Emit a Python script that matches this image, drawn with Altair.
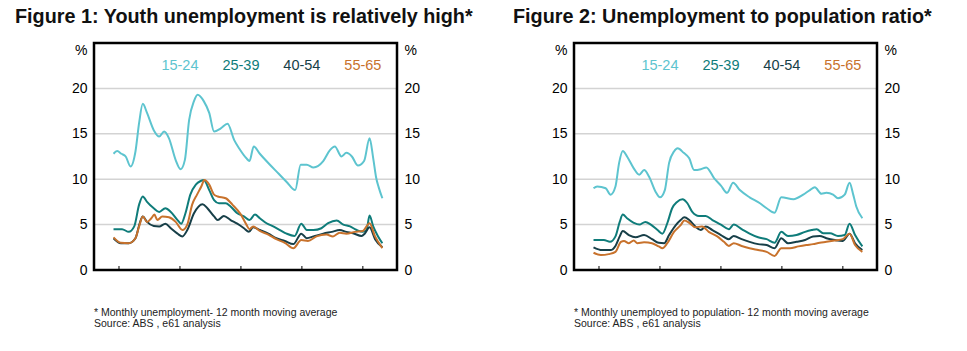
import altair as alt
import pandas as pd

GROUPS = ["15-24", "25-39", "40-54", "55-65"]
COLORS = ["#5DC4CF", "#0F7C7A", "#173F48", "#C8722C"]

# ---------------- Figure 1: unemployment rate (%) ----------------
f1_1524_year = [1979.1, 1979.7, 1980.4, 1981.1, 1981.9, 1982.7, 1983.3, 1983.9, 1984.6, 1985.7,
                1986.6, 1987.4, 1988.2, 1989.3, 1990.1, 1990.8, 1991.5, 1992.3, 1992.9, 1993.9,
                1994.8, 1995.6, 1996.7, 1997.8, 1998.9, 1999.8, 2000.9, 2001.4, 2002.1, 2003.1,
                2004.6, 2006.2, 2007.5, 2008.9, 2009.8, 2010.8, 2011.9, 2013.5, 2014.6, 2015.4,
                2016.5, 2017.3, 2018.2, 2019.2, 2020.2, 2021.1, 2021.7, 2022.2, 2022.6, 2023.2]
f1_1524_val = [12.8, 13.1, 12.8, 12.5, 11.4, 13.05, 16.2, 18.3, 17.3, 15.4,
               14.7, 15.25, 14.5, 12.1, 11.1, 12.1, 16.5, 18.6, 19.3, 18.6,
               17.3, 15.25, 15.6, 16.1, 14.3, 13.3, 12.3, 12.0, 13.6, 12.8,
               11.7, 10.6, 9.7, 8.8, 11.6, 11.6, 11.3, 12.0, 13.2, 13.6,
               12.5, 12.9, 12.5, 11.5, 12.0, 14.5, 12.3, 10.1, 9.1, 7.9]

f1_2539_year = [1979.1, 1980.5, 1981.6, 1982.5, 1983.3, 1983.9, 1984.6, 1985.7, 1986.6, 1987.6,
                1988.5, 1989.6, 1990.2, 1990.9, 1991.7, 1992.6, 1993.4, 1993.9, 1994.8, 1995.6,
                1996.4, 1997.5, 1998.3, 1999.4, 2000.5, 2001.4, 2002.3, 2003.1, 2004.2, 2005.3,
                2006.4, 2007.5, 2008.8, 2009.9, 2010.8, 2011.9, 2013.2, 2014.3, 2015.7, 2016.8,
                2017.9, 2019.0, 2020.0, 2020.6, 2021.1, 2021.7, 2022.5, 2023.2]
f1_2539_val = [4.5, 4.5, 4.2, 4.8, 7.2, 8.1, 7.5, 6.8, 6.4, 6.8,
               6.4, 5.5, 5.1, 6.25, 8.3, 9.4, 9.8, 9.9, 8.8, 7.7,
               7.35, 7.35, 7.0, 6.25, 5.9, 5.5, 6.1, 5.7, 5.15, 4.8,
               4.4, 4.0, 3.75, 5.1, 4.4, 4.4, 4.6, 5.15, 5.45, 5.0,
               4.8, 4.4, 4.2, 4.4, 6.0, 4.8, 3.7, 2.95]

f1_4054_year = [1979.1, 1980.3, 1981.6, 1982.7, 1983.4, 1983.9, 1984.6, 1985.7, 1986.6, 1987.6,
                1988.5, 1989.6, 1990.4, 1991.2, 1992.3, 1993.7, 1994.5, 1995.6, 1996.2, 1997.2,
                1998.3, 1999.4, 2000.5, 2001.3, 2002.0, 2003.1, 2004.5, 2005.8, 2007.2, 2008.6,
                2009.9, 2010.8, 2011.9, 2013.5, 2014.9, 2016.2, 2017.3, 2018.4, 2019.8, 2020.3,
                2021.1, 2022.0, 2023.2]
f1_4054_val = [3.5, 2.95, 2.95, 3.5, 5.15, 5.9, 5.3, 4.85, 4.8, 5.1,
               4.6, 4.0, 3.7, 4.4, 6.25, 7.25, 6.8, 5.9, 5.5, 5.95,
               5.5, 5.1, 4.6, 4.2, 4.7, 4.4, 4.0, 3.5, 3.2, 2.85,
               4.0, 3.5, 3.7, 4.0, 4.2, 4.4, 4.2, 4.05, 3.75, 4.0,
               4.7, 3.4, 2.5]

f1_5565_year = [1979.1, 1980.3, 1981.6, 1982.7, 1983.3, 1983.9, 1984.6, 1985.3, 1985.8, 1986.3,
                1987.1, 1988.2, 1989.3, 1990.4, 1991.2, 1992.0, 1992.8, 1993.5, 1994.0, 1994.8,
                1995.6, 1996.2, 1997.5, 1998.6, 2000.0, 2000.9, 2001.4, 2002.0, 2003.1, 2004.5,
                2005.8, 2007.2, 2008.6, 2009.9, 2011.0, 2012.4, 2014.0, 2015.1, 2016.2, 2017.3,
                2018.7, 2020.0, 2021.1, 2022.0, 2023.2]
f1_5565_val = [3.6, 3.0, 2.95, 3.5, 4.8, 5.9, 5.3, 5.7, 6.1, 5.5,
               5.9, 5.8, 5.3, 4.4, 5.0, 7.2, 8.3, 9.2, 9.9, 9.4,
               8.3, 8.1, 7.9, 7.2, 6.1, 5.0, 4.5, 4.8, 4.3, 3.9,
               3.4, 3.0, 2.4, 3.3, 3.2, 3.7, 3.9, 3.7, 4.1, 4.0,
               4.2, 4.3, 5.15, 3.7, 2.4]

# ---------------- Figure 2: unemployment to population ratio (%) ----------------
f2_1524_year = [1979.1, 1979.7, 1981.1, 1981.9, 1982.7, 1983.3, 1983.9, 1984.6, 1985.7, 1986.6,
                1987.4, 1988.2, 1989.3, 1990.0, 1990.8, 1991.5, 1992.3, 1992.9, 1993.9, 1994.8,
                1995.6, 1996.7, 1997.6, 1998.9, 2000.0, 2001.0, 2002.0, 2003.1, 2004.7, 2006.4,
                2007.5, 2008.8, 2009.9, 2011.9, 2013.5, 2014.6, 2015.4, 2016.5, 2017.3, 2018.4,
                2019.2, 2020.3, 2021.1, 2021.7, 2022.2, 2023.2]
f2_1524_val = [9.0, 9.2, 9.0, 8.3, 9.2, 11.8, 13.1, 12.5, 11.2, 10.5,
               11.0, 10.3, 8.6, 8.0, 8.8, 11.8, 13.05, 13.4, 12.9, 12.3,
               11.0, 11.1, 11.3, 10.1, 9.3, 8.5, 9.6, 8.8, 8.0, 7.35,
               6.8, 6.3, 8.0, 7.8, 8.3, 8.8, 9.1, 8.4, 8.5, 8.3,
               7.9, 8.3, 9.6, 8.3, 7.0, 5.7]

f2_2539_year = [1979.1, 1980.8, 1981.8, 1982.7, 1983.4, 1983.9, 1984.6, 1985.7, 1986.6, 1987.6,
                1988.5, 1989.6, 1990.4, 1991.2, 1992.0, 1992.8, 1993.7, 1994.5, 1995.3, 1996.4,
                1997.5, 1998.6, 2000.0, 2001.3, 2002.1, 2003.4, 2004.7, 2006.1, 2007.5, 2008.8,
                2009.9, 2011.0, 2012.4, 2013.8, 2014.9, 2015.7, 2016.8, 2017.9, 2019.2, 2020.3,
                2021.1, 2022.0, 2023.2]
f2_2539_val = [3.3, 3.3, 3.1, 3.7, 5.3, 6.1, 5.7, 5.2, 5.0, 5.3,
               5.0, 4.4, 4.0, 5.15, 6.8, 7.5, 7.8, 7.35, 6.4, 5.95,
               5.95, 5.5, 5.0, 4.5, 5.0, 4.5, 4.0, 3.6, 3.4, 3.0,
               4.2, 3.75, 3.85, 4.2, 4.4, 4.5, 4.05, 4.05, 3.75, 3.85,
               5.1, 3.85, 2.6]

f2_4054_year = [1979.1, 1980.5, 1981.9, 1982.7, 1983.4, 1983.9, 1984.9, 1986.0, 1987.4, 1988.7,
                1989.8, 1990.7, 1991.5, 1992.6, 1993.4, 1994.0, 1994.8, 1995.8, 1996.7, 1997.5,
                1998.6, 2000.0, 2001.3, 2002.1, 2003.4, 2004.7, 2006.1, 2007.5, 2008.8, 2009.9,
                2011.0, 2012.4, 2013.8, 2015.1, 2016.2, 2017.3, 2018.7, 2020.0, 2021.1, 2022.0,
                2023.2]
f2_4054_val = [2.5, 2.2, 2.2, 2.65, 3.7, 4.3, 3.85, 3.6, 3.85, 3.4,
               3.0, 2.95, 3.85, 4.95, 5.5, 5.8, 5.5, 4.8, 4.4, 4.8,
               4.4, 3.85, 3.4, 3.75, 3.4, 3.1, 2.85, 2.75, 2.4, 3.5,
               2.95, 3.1, 3.3, 3.7, 3.75, 3.5, 3.3, 3.2, 4.0, 2.95,
               2.2]

f2_5565_year = [1979.1, 1980.3, 1981.6, 1982.7, 1983.6, 1984.1, 1984.9, 1985.7, 1986.3, 1987.4,
                1988.7, 1989.8, 1990.4, 1991.2, 1992.3, 1993.4, 1994.0, 1994.8, 1995.8, 1996.9,
                1998.0, 1999.4, 2000.5, 2001.3, 2002.1, 2003.4, 2004.7, 2006.1, 2007.5, 2008.8,
                2009.9, 2011.3, 2012.7, 2014.0, 2015.1, 2016.2, 2017.3, 2018.7, 2020.0, 2021.1,
                2022.0, 2023.2]
f2_5565_val = [1.9, 1.65, 1.75, 2.0, 3.1, 3.2, 2.95, 3.25, 2.95, 3.05,
               2.95, 2.6, 2.4, 2.95, 4.2, 4.95, 5.45, 5.2, 4.7, 4.8,
               4.2, 3.7, 3.1, 2.65, 2.95, 2.65, 2.4, 2.2, 2.0, 1.55,
               2.4, 2.4, 2.6, 2.75, 2.85, 3.0, 3.1, 3.25, 3.4, 4.0,
               2.75, 2.0]

# ---------------- text ----------------
TITLE_1 = "Figure 1: Youth unemployment is relatively high*"
TITLE_2 = "Figure 2: Unemployment to population ratio*"
NOTE_1 = ["* Monthly unemployment- 12 month moving average", "Source: ABS , e61 analysis"]
NOTE_2 = ["* Monthly unemployed to population- 12 month moving average", "Source: ABS , e61 analysis"]

LEGEND_YEAR = [1990, 2000, 2010, 2020]
LEGEND_VALUE = 22.5
Y_TICKS = [0, 5, 10, 15, 20]
PCT_POS = 24.2
X_TICKS = [1980, 1990, 2000, 2010, 2020]
X_DOMAIN = [1975.9, 2025.6]
Y_DOMAIN = [0, 25]

FONT = "Liberation Sans"
W, H = 303, 227


def series_frame(parts):
    rows = []
    for g, ys, vs in parts:
        for y, v in zip(ys, vs):
            rows.append({"group": g, "year": y, "value": v})
    return pd.DataFrame(rows)


def panel(parts, title, notes, anchor=False):
    df = series_frame(parts)
    xs = alt.Scale(domain=X_DOMAIN, nice=False, zero=False)
    ys = alt.Scale(domain=Y_DOMAIN, nice=False)
    cs = alt.Scale(domain=GROUPS, range=COLORS)

    def yaxis(orient):
        return alt.Axis(orient=orient, values=Y_TICKS + [PCT_POS],
                        labelExpr="datum.value > 24 ? '%' : datum.label",
                        domain=False, ticks=False, grid=False, title=None,
                        labelPadding=7, labelFontSize=14, labelColor="#000",
                        labelFont=FONT)

    grid = alt.Chart(pd.DataFrame({"v": Y_TICKS[1:]})).mark_rule(
        color="#d3d3d3", strokeWidth=1.5
    ).encode(y=alt.Y("v:Q", scale=ys, axis=yaxis("left")))

    lines = alt.Chart(df).mark_line(strokeWidth=2, interpolate="monotone").encode(
        x=alt.X("year:Q", scale=xs,
                axis=alt.Axis(values=X_TICKS, format="d", domain=False, ticks=False,
                              grid=False, title=None, labelPadding=5, labelFontSize=14,
                              labelColor="#000", labelFont=FONT)),
        y=alt.Y("value:Q", scale=ys, axis=yaxis("right")),
        color=alt.Color("group:N", scale=cs, legend=None),
        order=alt.Order("year:Q"),
    )

    xt = alt.Chart(pd.DataFrame({"t": X_TICKS})).mark_rule(color="#000", strokeWidth=1).encode(
        x=alt.X("t:Q", scale=xs, axis=None),
        y=alt.value(H), y2=alt.value(H - 4),
    )

    frame = alt.Chart(pd.DataFrame({"a": [0]})).mark_rect(
        fill=None, stroke="#000", strokeWidth=2.5
    ).encode(x=alt.value(0), x2=alt.value(W), y=alt.value(0), y2=alt.value(H))

    leg = alt.Chart(pd.DataFrame({"group": GROUPS, "year": LEGEND_YEAR,
                                  "value": [LEGEND_VALUE] * 4})).mark_text(
        fontSize=14.5, font=FONT, align="center", baseline="middle"
    ).encode(
        x=alt.X("year:Q", scale=xs, axis=None),
        y=alt.Y("value:Q", scale=ys, axis=None),
        text="group:N",
        color=alt.Color("group:N", scale=cs, legend=None),
    )

    ttl = alt.Chart(pd.DataFrame({"t": [title]})).mark_text(
        fontSize=19.8, fontWeight="bold", font=FONT, align="left", baseline="middle", color="#111"
    ).encode(x=alt.value(-79 if anchor else -61), y=alt.value(-26), text="t:N")

    note = alt.Chart(pd.DataFrame({"t": notes, "dy": [270, 281]})).mark_text(
        fontSize=10.5, font=FONT, align="left", baseline="middle", color="#222"
    ).encode(x=alt.value(0), y=alt.Y("dy:Q", scale=None), text="t:N")

    layers = [grid, lines, xt, frame, leg, ttl, note]
    if anchor:
        anc = alt.Chart(pd.DataFrame({"a": [0]})).mark_rule(opacity=0, strokeWidth=0.001).encode(
            x=alt.value(-94), x2=alt.value(-93), y=alt.value(-43), y2=alt.value(-43))
        layers.append(anc)

    return alt.layer(*layers).resolve_axis(y="independent").properties(width=W, height=H)


p1 = panel([("15-24", f1_1524_year, f1_1524_val), ("25-39", f1_2539_year, f1_2539_val),
            ("40-54", f1_4054_year, f1_4054_val), ("55-65", f1_5565_year, f1_5565_val)],
           TITLE_1, NOTE_1, anchor=True)
p2 = panel([("15-24", f2_1524_year, f2_1524_val), ("25-39", f2_2539_year, f2_2539_val),
            ("40-54", f2_4054_year, f2_4054_val), ("55-65", f2_5565_year, f2_5565_val)],
           TITLE_2, NOTE_2)

chart = alt.hconcat(p1, p2, spacing=177, bounds="flush").properties(
    padding=0, background="white"
).configure_view(stroke=None)

chart.save("out.html", embed_options={"renderer": "svg", "actions": False})
